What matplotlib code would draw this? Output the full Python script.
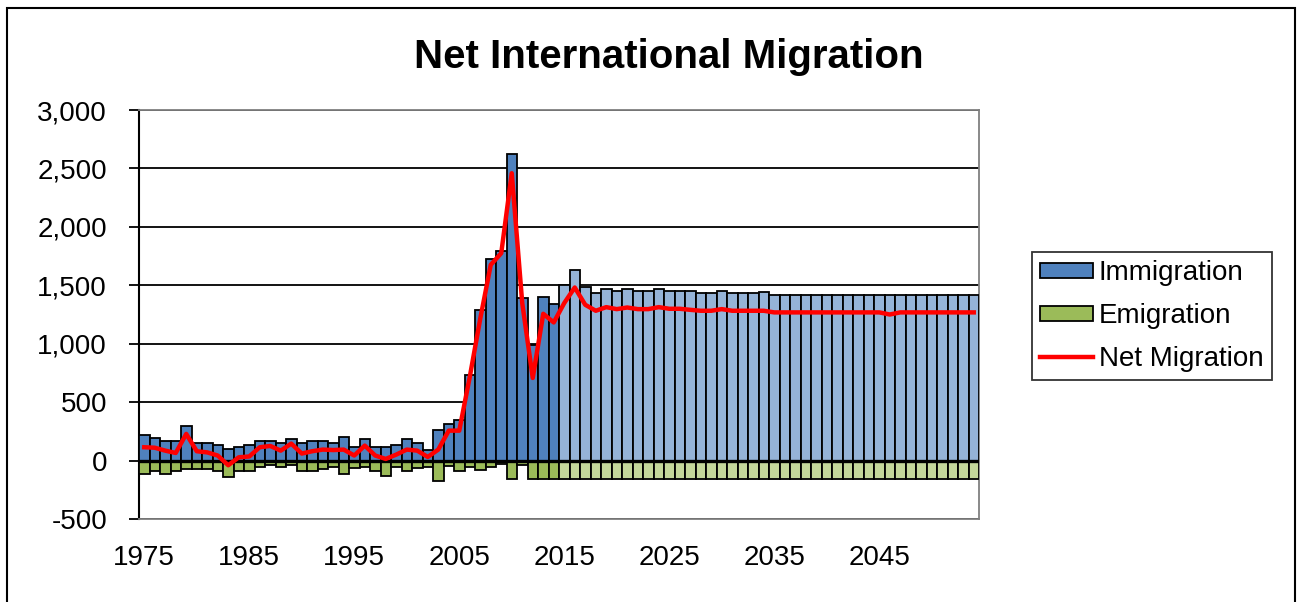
"""
Net International Migration chart: immigration / emigration bars with net line.
Writes out.png
"""

import numpy as np
import matplotlib
matplotlib.use("Agg")
import matplotlib.pyplot as plt
from matplotlib.patches import Patch, Rectangle
from matplotlib.lines import Line2D
from matplotlib.ticker import FuncFormatter

plt.rcParams["font.family"] = ["Liberation Sans", "DejaVu Sans"]

# ── data ──────────────────────────────────────────────────────────────────────
years = list(range(1975, 2055))
first_projected = 2015

immigration = [
    216, 197, 168, 168, 299, 151, 151, 131, 97, 120,
    134, 171, 171, 151, 185, 151, 171, 171, 151, 199,
    117, 185, 117, 117, 137, 185, 154, 88, 265, 316,
    345, 735, 1291, 1726, 1792, 2621, 1387, 991, 1404, 1339,
    1499, 1627, 1487, 1433, 1464, 1447, 1464, 1447, 1447, 1467,
    1447, 1447, 1447, 1433, 1433, 1450, 1433, 1433, 1433, 1439,
    1420, 1420, 1420, 1420, 1420, 1420, 1420, 1420, 1420, 1420,
    1420, 1420, 1420, 1420, 1420, 1420, 1420, 1420, 1420, 1420,
]

emigration = [
    -111, -91, -111, -91, -71, -71, -71, -91, -140, -91,
    -91, -54, -40, -54, -40, -91, -91, -71, -54, -111,
    -66, -54, -91, -128, -58, -91, -62, -54, -177, -45,
    -91, -57, -77, -57, -28, -157, -40, -157, -157, -157,
    -157, -157, -157, -157, -157, -157, -157, -157, -157, -157,
    -157, -157, -157, -157, -157, -157, -157, -157, -157, -157,
    -157, -157, -157, -157, -157, -157, -157, -157, -157, -157,
    -157, -157, -157, -157, -157, -157, -157, -157, -157, -157,
]

net_migration = [
    114, 110, 85, 65, 228, 80, 70, 43, -40, 28,
    35, 114, 125, 85, 145, 60, 80, 94, 90, 94,
    43, 128, 43, 14, 51, 94, 85, 31, 94, 256,
    256, 715, 1214, 1675, 1775, 2459, 1347, 707, 1256, 1182,
    1348, 1481, 1333, 1282, 1313, 1296, 1310, 1296, 1296, 1313,
    1299, 1299, 1290, 1282, 1282, 1296, 1282, 1282, 1282, 1282,
    1268, 1268, 1268, 1268, 1268, 1268, 1268, 1268, 1268, 1268,
    1268, 1250, 1268, 1268, 1268, 1268, 1268, 1268, 1268, 1268,
]

year_labels = [str(y) for y in range(1975, 2055, 10)]

# ── colours ───────────────────────────────────────────────────────────────────
blue, blue_proj = "#4F81BD", "#95B3D7"
green, green_proj = "#9BBB59", "#C4D79B"
red = "#FF0000"

# ── figure ────────────────────────────────────────────────────────────────────
W, H = 1302, 602
fig = plt.figure(figsize=(W / 100, H / 100), dpi=100)
ax = fig.add_axes([139 / W, 1 - 519 / H, (979 - 139) / W, (519 - 110) / H])

x = np.arange(len(years))
projected = np.array(years) >= first_projected
imm_colors = [blue_proj if p else blue for p in projected]
emi_colors = [green_proj if p else green for p in projected]

ax.bar(x, immigration, width=1.0, color=imm_colors, edgecolor="black",
       linewidth=1.3, zorder=3)
ax.bar(x, emigration, width=1.0, color=emi_colors, edgecolor="black",
       linewidth=1.3, zorder=3)
ax.plot(x, net_migration, color=red, linewidth=3.2, zorder=5,
        solid_joinstyle="round")
ax.axhline(0, color="black", linewidth=2.4, zorder=4)

ax.set_xlim(-0.5, len(years) - 0.5)
ax.set_ylim(-500, 3000)
ax.set_yticks(range(-500, 3001, 500))
ax.yaxis.set_major_formatter(FuncFormatter(lambda v, _: f"{int(v):,}"))
ax.set_xticks([years.index(int(s)) for s in year_labels])
ax.set_xticklabels(year_labels)

ax.yaxis.grid(True, color="black", linewidth=1.3, zorder=0)
ax.set_axisbelow(True)
ax.tick_params(axis="y", direction="out", length=7, width=1.3,
               labelsize=20, pad=16, colors="black")
ax.tick_params(axis="x", length=0, labelsize=20, pad=19)

for side in ("top", "right", "bottom"):
    ax.spines[side].set_color("#808080")
    ax.spines[side].set_linewidth(1.3)
ax.spines["left"].set_color("black")
ax.spines["left"].set_linewidth(1.5)

fig.text(669 / W, 1 - 57 / H, "Net International Migration",
         ha="center", va="center", fontsize=29, fontweight="bold")

handles = [
    Patch(facecolor=blue, edgecolor="black", linewidth=1.3, label="Immigration"),
    Patch(facecolor=green, edgecolor="black", linewidth=1.3, label="Emigration"),
    Line2D([0], [0], color=red, linewidth=3.2, label="Net Migration"),
]
leg = fig.legend(handles=handles, loc="upper left",
                 bbox_to_anchor=(1032 / W, 1 - 252 / H),
                 fontsize=20, frameon=True, fancybox=False,
                 handlelength=1.9, handleheight=0.45, handletextpad=0.2,
                 labelspacing=0.6, borderpad=0.3, borderaxespad=0)
leg.get_frame().set_edgecolor("black")
leg.get_frame().set_linewidth(1.3)

# chart-area border (bottom edge falls outside the picture)
fig.patches.append(Rectangle((7 / W, -0.1), (1295 - 7) / W, 1.1 - 8 / H,
                             transform=fig.transFigure, fill=False,
                             edgecolor="black", linewidth=1.5))

fig.savefig("out.png", dpi=100)
